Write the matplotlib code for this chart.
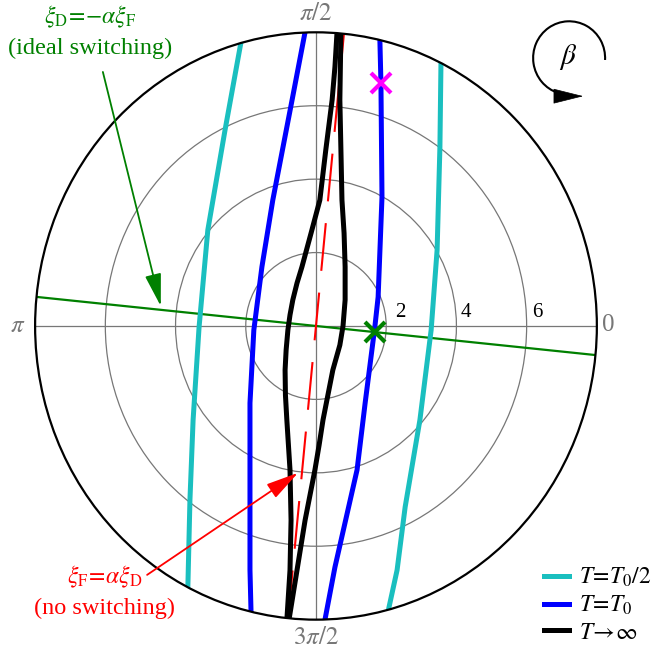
import numpy as np
import matplotlib
matplotlib.use("Agg")
import matplotlib.pyplot as plt
from matplotlib.patches import Circle, Arc

plt.rcParams["font.family"] = ["Liberation Serif", "DejaVu Serif"]
plt.rcParams["mathtext.fontset"] = "stix"

# curves, as (x, y) in the radial units of the rings
cyan_right_x = [3.56, 3.53, 3.45, 3.28, 2.96, 2.54, 2.31, 2.08]
cyan_right_y = [7.17, 4.88, 2.07, -0.11, -2.56, -4.93, -6.65, -7.66]
cyan_left_x = [-2.14, -2.59, -3.08, -3.33, -3.50, -3.59, -3.65]
cyan_left_y = [7.71, 5.34, 2.62, -0.03, -2.56, -4.74, -7.14]

blue_right_x = [1.82, 1.85, 1.88, 1.77, 1.68, 1.40, 1.17, 0.54, 0.26]
blue_right_y = [7.79, 6.62, 3.51, 0.79, 0.0, -2.10, -3.92, -6.57, -7.98]
blue_left_x = [-0.31, -0.68, -1.23, -1.54, -1.77, -1.88, -1.88, -1.88, -1.85]
blue_left_y = [8.01, 6.16, 3.43, 1.61, -0.11, -2.10, -4.47, -6.65, -7.79]

black_a_x = [0.71, 0.68, 0.71, 0.74, 0.80, 0.83, 0.83, 0.77, 0.68, 0.48, 0.34,
             0.20, 0.09, -0.03, -0.31, -0.54, -0.77]
black_a_y = [8.01, 6.16, 4.80, 3.43, 2.53, 1.61, 0.71, 0.0, -0.52, -1.20, -1.88,
             -2.56, -3.24, -3.92, -5.29, -6.65, -8.01]
black_b_x = [0.60, 0.54, 0.46, 0.28, 0.11, -0.14, -0.40, -0.54, -0.66, -0.74,
             -0.80, -0.85, -0.88, -0.87, -0.83, -0.74, -0.71, -0.74, -0.83]
black_b_y = [8.01, 7.06, 6.16, 4.80, 3.43, 2.53, 1.61, 1.17, 0.71, 0.30,
             -0.11, -0.65, -1.20, -1.88, -2.56, -3.92, -5.29, -6.65, -8.01]

ideal_slope = -0.0995      # xi_D = -alpha xi_F line (y per x)
noswitch_slope = 0.1       # xi_F = alpha xi_D line (x per y)
magenta_pt = (1.84, 6.61)
green_pt = (1.68, -0.167)

ring_radii = [2, 4, 6]
outer_r = 8
angle_labels = ["0", r"$\pi/2$", r"$\pi$", r"$3\pi/2$"]

fig = plt.figure(figsize=(6.59, 6.56), dpi=100)
ax = fig.add_axes([0, 0, 1, 1])
ax.set_xlim(-9.0, 9.77)
ax.set_ylim(-8.99, 8.88)
ax.axis("off")

grey = "#777777"
for r in ring_radii:
    ax.add_patch(Circle((0, 0), r, fill=False, ec=grey, lw=0.9, zorder=1))
ax.plot([-outer_r, outer_r], [0, 0], color=grey, lw=0.9, zorder=1)
ax.plot([0, 0], [-outer_r, outer_r], color=grey, lw=0.9, zorder=1)
border = Circle((0, 0), outer_r, fill=False, ec="black", lw=1.6, zorder=6)
ax.add_patch(border)

for r, xl in zip(ring_radii, [2.39, 4.27, 6.30]):
    ax.text(xl, 0.38, str(r), fontsize=15, ha="center", va="center")
ax.text(8.32, 0.02, angle_labels[0], fontsize=18, color=grey, ha="center", va="center")
ax.text(0, 8.5, angle_labels[1], fontsize=18, color=grey, ha="center", va="center")
ax.text(-8.49, 0.0, angle_labels[2], fontsize=18, color=grey, ha="center", va="center")
ax.text(0, -8.5, angle_labels[3], fontsize=18, color=grey, ha="center", va="center")

# ideal switching line
xs = np.array([-outer_r, outer_r]) / np.sqrt(1 + ideal_slope ** 2)
ax.plot(xs, ideal_slope * xs, color="#008000", lw=1.6, zorder=2)
# no switching line
ys = np.array([-outer_r, outer_r]) / np.sqrt(1 + noswitch_slope ** 2)
ax.plot(noswitch_slope * ys, ys, color="red", lw=1.5, dashes=(23, 10.5), zorder=3)

cyan = "#1ABFBF"
lw = 3.6
c1, = ax.plot(cyan_right_x, cyan_right_y, color=cyan, lw=lw, zorder=4,
              label=r"$T\!=\!T_0/2$")
ax.plot(cyan_left_x, cyan_left_y, color=cyan, lw=lw, zorder=4)
b1, = ax.plot(blue_right_x, blue_right_y, color="blue", lw=lw, zorder=4,
              label=r"$T\!=\!T_0$")
ax.plot(blue_left_x, blue_left_y, color="blue", lw=lw, zorder=4)
k1, = ax.plot(black_a_x, black_a_y, color="black", lw=lw, zorder=5,
              label=r"$T\!\rightarrow\!\infty$")
ax.plot(black_b_x, black_b_y, color="black", lw=lw, zorder=5)
for ln in ax.lines:
    ln.set_solid_joinstyle("round")
    ln.set_clip_path(border)

ax.plot(*magenta_pt, marker="x", ms=14, mew=3, color="#FF00FF", zorder=7)
ax.plot(*green_pt, marker="x", ms=14, mew=3, color="#008000", zorder=7)

# annotations
green = "#008000"
head = "-|>,head_length=2.0,head_width=0.5"
ax.text(-6.44, 8.42, r"$\xi_{\mathrm{D}}\!=\!{-}\alpha\xi_{\mathrm{F}}$", color=green,
        fontsize=17, ha="center", va="center")
ax.text(-6.44, 7.57, "(ideal switching)", color=green, fontsize=17.5,
        ha="center", va="center")
ax.annotate("", xy=(-4.42, 0.54), xytext=(-6.07, 6.92),
            arrowprops=dict(arrowstyle=head, mutation_scale=10, color=green,
                            lw=1.3, shrinkA=0, shrinkB=0), zorder=8)
ax.text(-6.01, -6.84, r"$\xi_{\mathrm{F}}\!=\!\alpha\xi_{\mathrm{D}}$", color="red",
        fontsize=17, ha="center", va="center")
ax.text(-6.01, -7.68, "(no switching)", color="red", fontsize=17.5,
        ha="center", va="center")
ax.annotate("", xy=(-0.51, -4.0), xytext=(-4.81, -6.78),
            arrowprops=dict(arrowstyle=head, mutation_scale=10, color="red",
                            lw=1.3, shrinkA=0, shrinkB=0), zorder=8)

# beta rotation symbol
ax.add_patch(Arc((7.21, 7.30), 2.05, 2.0, theta1=-3, theta2=252, lw=1.5,
                 color="black"))
ax.annotate("", xy=(7.61, 6.26), xytext=(6.86, 6.26),
            arrowprops=dict(arrowstyle="-|>,head_length=2.0,head_width=0.5",
                            mutation_scale=10, color="black", lw=0.5,
                            shrinkA=0, shrinkB=0))
ax.text(7.18, 7.33, r"$\beta$", fontsize=21, ha="center", va="center")

fig.legend(handles=[c1, b1, k1], loc="lower right", bbox_to_anchor=(1.0, 0.008),
           frameon=False, fontsize=17, handlelength=1.06, handletextpad=0.42,
           labelspacing=0.2, borderaxespad=0.0, borderpad=0.3)

fig.savefig("out.png", dpi=100)
